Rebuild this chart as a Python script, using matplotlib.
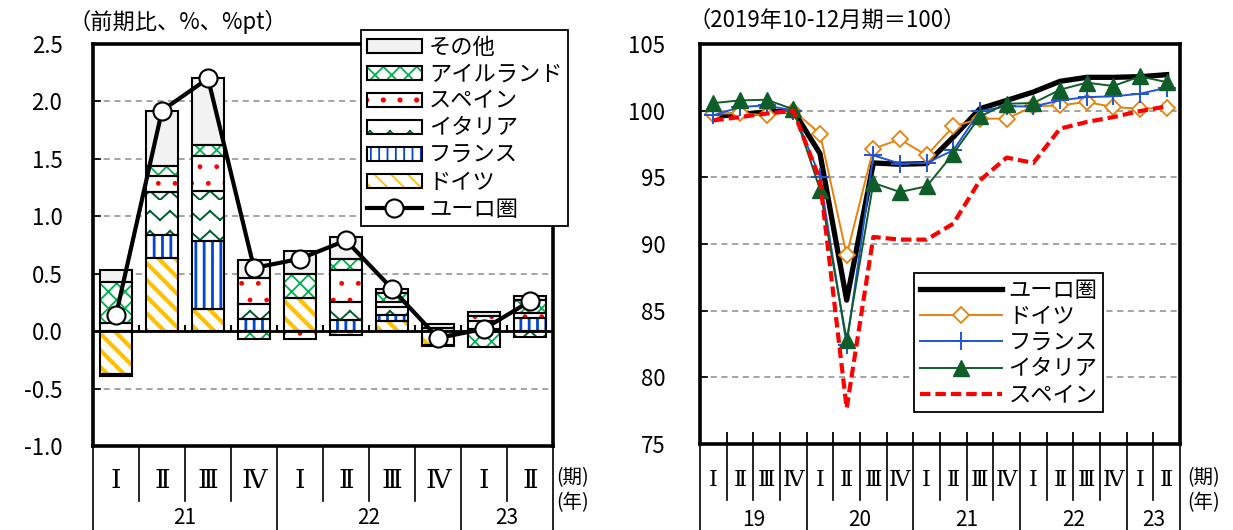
import warnings
import numpy as np
import matplotlib
matplotlib.use("Agg")
import matplotlib.pyplot as plt
import matplotlib.hatch as mhatch
from matplotlib.patches import Patch
from matplotlib.lines import Line2D

warnings.filterwarnings("ignore")

plt.rcParams["font.family"] = ["Noto Sans CJK JP", "DejaVu Sans"]
plt.rcParams["axes.unicode_minus"] = False
plt.rcParams["hatch.linewidth"] = 1.3

# --- left panel: contributions to euro area GDP growth (q/q, %pt) ---
bar_quarters = ["Ⅰ", "Ⅱ", "Ⅲ", "Ⅳ", "Ⅰ", "Ⅱ", "Ⅲ", "Ⅳ", "Ⅰ", "Ⅱ"]
bar_years = ["21", "22", "23"]
bar_year_len = [4, 4, 2]

germany = [-0.37, 0.635, 0.19, 0.0, 0.285, -0.035, 0.087, -0.12, -0.01, 0.0]
france = [0.0, 0.206, 0.594, 0.108, 0.0, 0.096, 0.052, -0.01, 0.02, 0.115]
italy = [0.072, 0.368, 0.433, 0.131, 0.0, 0.159, 0.067, 0.0, 0.07, -0.05]
spain = [-0.02, 0.145, 0.307, 0.226, -0.07, 0.276, 0.049, 0.03, 0.04, 0.04]
ireland = [0.352, 0.087, 0.093, -0.066, 0.211, 0.096, 0.073, 0.0, -0.13, 0.12]
others = [0.107, 0.473, 0.583, 0.151, 0.203, 0.194, 0.037, 0.03, 0.035, 0.035]
euro_growth = [0.14, 1.92, 2.2, 0.55, 0.63, 0.79, 0.37, -0.06, 0.02, 0.26]

# --- right panel: real GDP level, 2019Q4 = 100 ---
line_quarters = ["Ⅰ", "Ⅱ", "Ⅲ", "Ⅳ"] * 4 + ["Ⅰ", "Ⅱ"]
line_years = ["19", "20", "21", "22", "23"]
line_year_len = [4, 4, 4, 4, 2]

euro_idx = [99.57, 99.72, 99.9, 100.0, 96.78, 85.79, 96.08, 95.98, 96.03,
            98.02, 100.15, 100.77, 101.4, 102.2, 102.5, 102.5, 102.55, 102.7]
germany_idx = [99.78, 99.8, 99.65, 100.0, 98.28, 89.16, 97.15, 97.85, 96.65,
               98.82, 99.4, 99.4, 100.32, 100.4, 100.65, 100.27, 100.15, 100.2]
france_idx = [99.65, 100.27, 100.4, 100.0, 95.03, 82.42, 96.65, 96.03, 96.08,
              97.03, 99.97, 100.32, 100.32, 100.77, 101.02, 101.07, 101.27, 101.72]
italy_idx = [100.57, 100.77, 100.82, 100.1, 94.08, 82.8, 94.58, 93.9, 94.33,
             96.78, 99.57, 100.52, 100.57, 101.57, 102.1, 101.85, 102.57, 102.14]
spain_idx = [99.27, 99.52, 99.78, 100.0, 94.78, 77.68, 90.53, 90.33, 90.33,
             91.53, 94.78, 96.48, 96.08, 98.65, 99.15, 99.52, 99.97, 100.32]


class ZigzagHatch(mhatch.HatchPatternBase):
    """Zigzag rows, selected with the letter 'z'. Each stroke is its own
    subpath so the renderer does not fill the teeth."""

    def __init__(self, hatch, density):
        self.num_rows = int(hatch.count("z") * density * 5 / 6)
        self.num_vertices = self.num_rows * 4 * self.num_rows

    def set_vertices_and_codes(self, vertices, codes):
        n = self.num_rows
        step = 1.0 / n
        pts_x = np.arange(2 * n + 1) / (2 * n)
        pts_y = np.where(np.arange(2 * n + 1) % 2 == 1, 0.45 * step, 0.0)
        cur = 0
        for i in range(n):
            for j in range(2 * n):
                vertices[cur] = (pts_x[j], i * step + pts_y[j])
                vertices[cur + 1] = (pts_x[j + 1], i * step + pts_y[j + 1])
                codes[cur] = mhatch.Path.MOVETO
                codes[cur + 1] = mhatch.Path.LINETO
                cur += 2


mhatch._hatch_types.append(ZigzagHatch)


def set_hatch_lw(patches, lw):
    for p in patches:
        if hasattr(p, "set_hatch_linewidth"):
            p.set_hatch_linewidth(lw)


def draw_period_table(ax, quarters, years, year_len, short_drop, q_y, y_y, q_size):
    trans = ax.get_xaxis_transform()
    n = len(quarters)
    year_edges = set(np.cumsum([0] + year_len))
    for i in range(n + 1):
        drop = -0.4 if i in year_edges else short_drop
        ax.plot([i - 0.5, i - 0.5], [0, drop], transform=trans, color="black",
                lw=1.2, clip_on=False)
    for i, q in enumerate(quarters):
        ax.text(i, q_y, q, transform=trans, ha="center", va="center",
                fontsize=q_size, family="DejaVu Serif")
    start = 0
    for yr, ln in zip(years, year_len):
        ax.text(start + (ln - 1) / 2, y_y, yr, transform=trans, ha="center",
                va="center", fontsize=15)
        start += ln


fig = plt.figure(figsize=(12.33, 5.30), dpi=100)

# ================= left panel =================
ax1 = fig.add_axes([93 / 1233, 1 - 446 / 530, 460 / 1233, 402 / 530])
x = np.arange(len(bar_quarters))
width = 0.68

stack_vals = [germany, france, italy, spain, ireland, others]
stack_face = ["white", "white", "white", "white", "white", "#f2f2f2"]
stack_hcol = ["#ffc000", "#0047d6", "#00602b", "#ff0000", "#00b050", "black"]
stack_hatch = ["\\\\", "||", "z", ".", "xx", None]
stack_hlw = [3.0, 2.0, 1.4, 1.0, 1.3, 1.0]

pos_base = np.zeros(len(x))
neg_base = np.zeros(len(x))
for vals, face, hcol, hatch, hlw in zip(stack_vals, stack_face, stack_hcol,
                                        stack_hatch, stack_hlw):
    vals = np.array(vals)
    keep = vals != 0
    base = np.where(vals > 0, pos_base, neg_base)
    fill = ax1.bar(x[keep], vals[keep], width, bottom=base[keep], color=face,
                   edgecolor=hcol, hatch=hatch, linewidth=0, zorder=2)
    set_hatch_lw(fill, hlw)
    ax1.bar(x[keep], vals[keep], width, bottom=base[keep], fill=False,
            edgecolor="black", linewidth=1.5, zorder=3)
    pos_base += np.where(vals > 0, vals, 0)
    neg_base += np.where(vals < 0, vals, 0)

ax1.plot(x, euro_growth, color="black", lw=3, marker="o", ms=13, mfc="white",
         mec="black", mew=1.5, zorder=5)

ax1.set_xlim(-0.5, len(x) - 0.5)
ax1.set_ylim(-1.0, 2.5)
yt = np.arange(-1.0, 2.51, 0.5)
ax1.set_yticks(yt)
ax1.set_yticklabels([f"{v:.1f}" for v in yt], fontsize=16)
for v in yt[1:-1]:
    if abs(v) > 1e-9:
        ax1.axhline(v, color="#8c8c8c", lw=1.1, ls=(0, (4, 3)), zorder=0)
ax1.axhline(0, color="black", lw=2, zorder=4)
ax1.vlines(x[:-1] + 0.5, 0, 0.055, color="black", lw=1.5, zorder=4)
ax1.set_xticks([])
ax1.tick_params(axis="y", direction="in", length=6, width=1.2, pad=22)
for sp in ax1.spines.values():
    sp.set_linewidth(2.6)

draw_period_table(ax1, bar_quarters, bar_years, bar_year_len,
                  short_drop=-0.137, q_y=-0.085, y_y=-0.18, q_size=19)

legend_handles = []
legend_labels = ["その他", "アイルランド", "スペイン", "イタリア", "フランス", "ドイツ"]
for idx in [5, 4, 3, 2, 1, 0]:
    if stack_hatch[idx] is None:
        h = Patch(facecolor=stack_face[idx], edgecolor="black", lw=1.5)
    else:
        hp = Patch(facecolor=stack_face[idx], edgecolor=stack_hcol[idx],
                   hatch=stack_hatch[idx], lw=0)
        set_hatch_lw([hp], stack_hlw[idx])
        h = (hp, Patch(fill=False, edgecolor="black", lw=1.5))
    legend_handles.append(h)
legend_handles.append(Line2D([], [], color="black", lw=3, marker="o", ms=13,
                             mfc="white", mec="black", mew=1.5))
legend_labels.append("ユーロ圏")
leg1 = ax1.legend(legend_handles, legend_labels, loc="upper left",
                  bbox_to_anchor=(361 / 1233, 1 - 30 / 530),
                  bbox_transform=fig.transFigure, fontsize=16, frameon=True,
                  fancybox=False, framealpha=1, edgecolor="black",
                  borderaxespad=0, borderpad=0.25, handlelength=2.5,
                  handleheight=0.6, handletextpad=0.3, labelspacing=0.18)
leg1.get_frame().set_linewidth(1.3)
leg1.set_zorder(10)

fig.text(68 / 1233, 1 - 22 / 530, "（前期比、%、%pt）", fontsize=16,
         ha="left", va="center")
fig.text(556 / 1233, 1 - 478 / 530, "(期)", fontsize=14, ha="left", va="center")
fig.text(556 / 1233, 1 - 503 / 530, "(年)", fontsize=14, ha="left", va="center")

# ================= right panel =================
ax2 = fig.add_axes([700 / 1233, 1 - 444 / 530, 480 / 1233, 400 / 530])
xl = np.arange(len(line_quarters))

for v in [80, 85, 90, 95, 100]:
    ax2.axhline(v, color="#8c8c8c", lw=1.1, ls=(0, (4, 3)), zorder=0)

ax2.plot(xl, euro_idx, color="black", lw=3.8, label="ユーロ圏", zorder=3)
ax2.plot(xl, germany_idx, color="#e8820c", lw=1.4, marker="D", ms=8,
         mfc="white", mec="#e8820c", mew=1.3, label="ドイツ", zorder=4)
ax2.plot(xl, france_idx, color="#1f55d6", lw=1.4, marker="+", ms=13,
         mew=1.4, label="フランス", zorder=5)
ax2.plot(xl, italy_idx, color="#0f5e2a", lw=1.4, marker="^", ms=11,
         mfc="#0f5e2a", mec="#0f5e2a", label="イタリア", zorder=6)
ax2.plot(xl, spain_idx, color="#ff0000", lw=3, ls=(0, (2.5, 1.2)),
         label="スペイン", zorder=7)

ax2.set_xlim(-0.5, len(xl) - 0.5)
ax2.set_ylim(75, 105)
ax2.set_yticks(np.arange(75, 106, 5))
ax2.set_yticklabels([str(v) for v in range(75, 106, 5)], fontsize=16)
ax2.set_xticks(xl[:-1] + 0.5)
ax2.tick_params(axis="x", direction="in", length=9, width=1.3,
                labelbottom=False)
ax2.tick_params(axis="y", direction="in", length=6, width=1.2, pad=25)
for sp in ax2.spines.values():
    sp.set_linewidth(2.6)

draw_period_table(ax2, line_quarters, line_years, line_year_len,
                  short_drop=-0.14, q_y=-0.09, y_y=-0.19, q_size=16)

leg2 = ax2.legend(loc="upper left", bbox_to_anchor=(914 / 1233, 1 - 273 / 530),
                  bbox_transform=fig.transFigure, fontsize=16, frameon=True,
                  fancybox=False, framealpha=1, edgecolor="black",
                  borderaxespad=0, borderpad=0.25, handlelength=3.7,
                  handletextpad=0.3, labelspacing=0.15)
leg2.get_frame().set_linewidth(1.3)

fig.text(688 / 1233, 1 - 20 / 530, "（2019年10-12月期＝100）", fontsize=16,
         ha="left", va="center")
fig.text(1187 / 1233, 1 - 478 / 530, "(期)", fontsize=14, ha="left", va="center")
fig.text(1187 / 1233, 1 - 503 / 530, "(年)", fontsize=14, ha="left", va="center")

fig.savefig("out.png", dpi=100)
plt.close(fig)
